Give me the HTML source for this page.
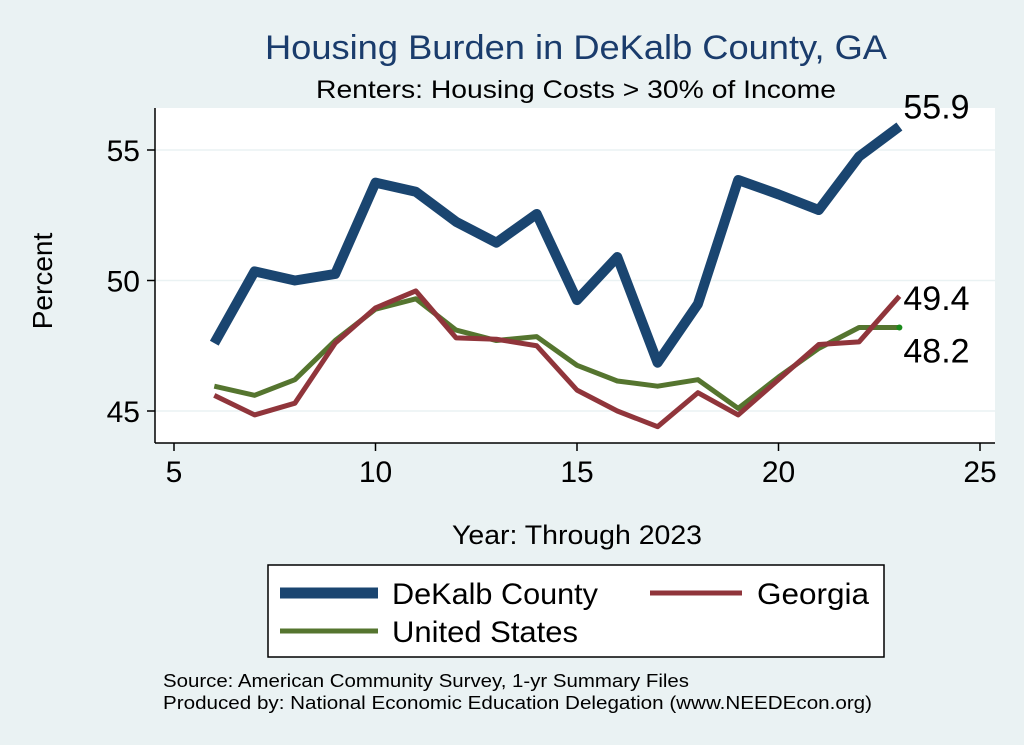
<!DOCTYPE html>
<html><head><meta charset="utf-8"><style>
body{margin:0;background:#eaf2f3;}
svg{display:block;font-family:"Liberation Sans",Arial,sans-serif;}
</style></head><body>
<svg id="chart" width="1024" height="745" viewBox="0 0 1024 745">
<rect x="0" y="0" width="1024" height="745" fill="#eaf2f3"/>
<rect x="155" y="108" width="840" height="335" fill="#ffffff"/>
<text x="265" y="59" font-size="34" fill="#1a3c6c" textLength="622" lengthAdjust="spacingAndGlyphs">Housing Burden in DeKalb County, GA</text>
<text x="316" y="98" font-size="25" fill="#000" textLength="520" lengthAdjust="spacingAndGlyphs">Renters: Housing Costs &gt; 30% of Income</text>
<g id="grid"></g>
<g id="axes"></g>
<g id="series"></g>
<text x="52" y="281" font-size="28" text-anchor="middle" transform="rotate(-90 52 281)">Percent</text>
<text x="452" y="544" font-size="27" textLength="250" lengthAdjust="spacingAndGlyphs">Year: Through 2023</text>
<g>
<rect x="268" y="565" width="616" height="92" fill="#fff" stroke="#000" stroke-width="1.5"/>
<line x1="280" y1="593" x2="378" y2="593" stroke="#1a4570" stroke-width="11"/>
<text x="392" y="604" font-size="30" textLength="206" lengthAdjust="spacingAndGlyphs">DeKalb County</text>
<line x1="650" y1="593" x2="742" y2="593" stroke="#90353b" stroke-width="5"/>
<text x="757" y="604" font-size="30" textLength="112" lengthAdjust="spacingAndGlyphs">Georgia</text>
<line x1="280" y1="631" x2="378" y2="631" stroke="#55752f" stroke-width="5"/>
<text x="392" y="642" font-size="30" textLength="186" lengthAdjust="spacingAndGlyphs">United States</text>
</g>
<text x="163" y="687" font-size="18" textLength="526" lengthAdjust="spacingAndGlyphs">Source: American Community Survey, 1-yr Summary Files</text>
<text x="163" y="709" font-size="18" textLength="709" lengthAdjust="spacingAndGlyphs">Produced by: National Economic Education Delegation (www.NEEDEcon.org)</text>
</svg>
<script>
const years=[6,7,8,9,10,11,12,13,14,15,16,17,18,19,20,21,22,23];
const dekalb=[47.6,50.35,50.0,50.25,53.75,53.4,52.25,51.45,52.55,49.25,50.9,46.85,49.1,53.85,53.3,52.7,54.75,55.9];
const georgia=[45.6,44.85,45.3,47.6,48.95,49.6,47.8,47.75,47.5,45.8,45.0,44.4,45.7,44.85,46.2,47.55,47.65,49.4];
const us=[45.95,45.6,46.2,47.7,48.9,49.3,48.1,47.7,47.85,46.75,46.15,45.95,46.2,45.1,46.3,47.4,48.2,48.2];
const xTicks=[5,10,15,20,25];
const yTicks=[45,50,55];
const NS="http://www.w3.org/2000/svg";
const xs=v=>174+(v-5)*(980-174)/20;
const ys=v=>411-(v-45)*(411-150)/10;
function mk(t,a,p){const e=document.createElementNS(NS,t);for(const k in a)e.setAttribute(k,a[k]);p.appendChild(e);return e;}
const grid=document.getElementById('grid'),axes=document.getElementById('axes'),ser=document.getElementById('series');
mk('line',{x1:155,y1:443,x2:995,y2:443,stroke:'#000','stroke-width':1.5},axes);
mk('line',{x1:155,y1:108,x2:155,y2:443,stroke:'#000','stroke-width':1.5},axes);
yTicks.forEach(v=>{
 const g=mk('line',{x1:155,y1:ys(v),x2:995,y2:ys(v),stroke:'#eaf2f3','stroke-width':1.5},grid);
 
 
 mk('line',{x1:147,y1:ys(v),x2:155,y2:ys(v),stroke:'#000','stroke-width':1.5},axes);
 const t=mk('text',{x:140,y:ys(v)+11,'font-size':30,'text-anchor':'end'},axes);t.textContent=v;
 
 
});
xTicks.forEach(v=>{
 mk('line',{x1:xs(v),y1:443,x2:xs(v),y2:451,stroke:'#000','stroke-width':1.5},axes);
 const t=mk('text',{x:xs(v),y:482,'font-size':30,'text-anchor':'middle'},axes);t.textContent=v;
 
 
});
function line(data,color,w,name){
 const d=data.map((v,i)=>(i?'L':'M')+xs(years[i])+','+ys(v)).join(' ');
 const p=mk('path',{d:d,fill:'none',stroke:color,'stroke-width':w,'stroke-linejoin':'round'},ser);
 
 
}
line(us,'#55752f',5,'us-line');
line(georgia,'#90353b',5,'georgia-line');
line(dekalb,'#1a4570',10,'dekalb-line');
const n=years.length-1;
mk('circle',{cx:xs(years[n]),cy:ys(us[n]),r:3,fill:'#1a8a1a'},ser);
function lab(v,dy,name){const t=mk('text',{x:xs(years[n])+4,y:ys(v)+dy,'font-size':34},ser);t.textContent=v.toFixed(1);
 
 }
lab(dekalb[n],-8,'dekalb-end-label');
lab(georgia[n],14,'georgia-end-label');
lab(us[n],35,'us-end-label');
</script>
</body></html>
